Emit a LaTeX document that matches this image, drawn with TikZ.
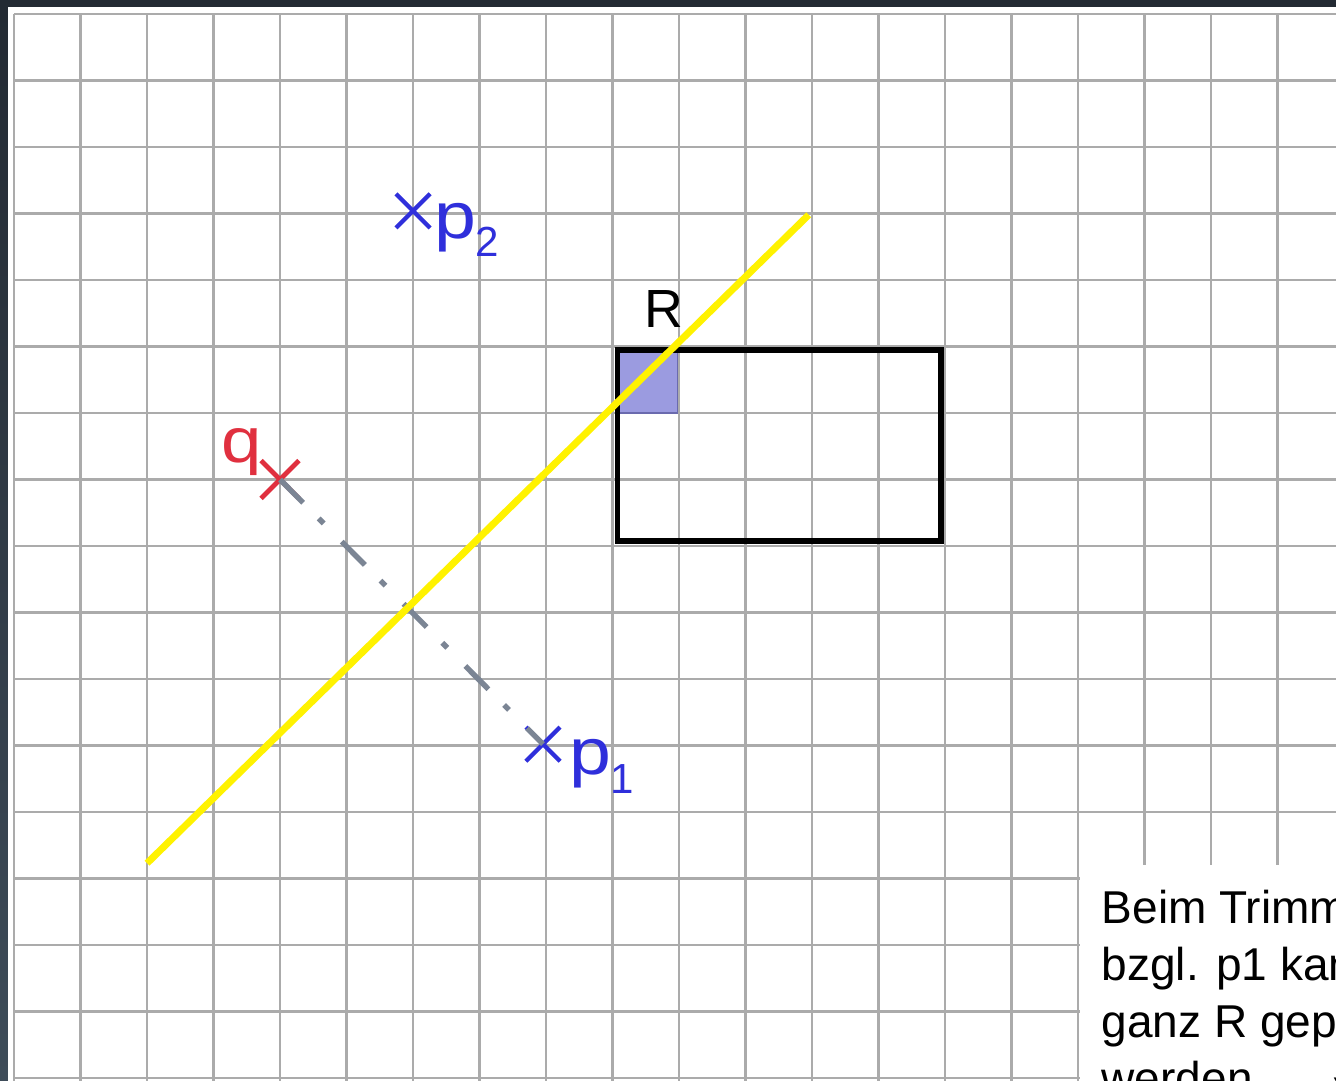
\documentclass[tikz,border=0pt]{standalone}
\usepackage{fontspec}
\setmainfont{Liberation Sans}
\usepackage{xcolor}
\usetikzlibrary{positioning,shapes.misc}
\definecolor{frameedge}{HTML}{232A33}
\definecolor{frameside}{HTML}{3E4C59}
\definecolor{qred}{HTML}{E0303F}
\definecolor{pblue}{HTML}{2F2FDB}
\definecolor{linegray}{HTML}{7B8594}
\definecolor{cellfill}{HTML}{9B9BE0}
\definecolor{celledge}{HTML}{6A6AAE}
\tikzset{
  gridline/.style={draw=black!33, line width=1.1pt},
  pointmark/.style={cross out, draw, inner sep=0pt, minimum size=0.45cm, line width=1.8pt},
  ptlabel/.style={anchor=base west, inner sep=0pt, text=pblue, font=\fontsize{28}{28}\selectfont},
  region/.style={draw=black, line width=2.5pt},
  bisector/.style={draw=yellow, line width=3pt},
  dashdot/.style={draw=linegray, line width=2.3pt,
    dash pattern=on 14pt off 9.5pt on 3pt off 11pt},
  notetext/.style={anchor=north west, inner sep=0pt, align=left,
    font=\fontsize{19.7}{24.4}\selectfont}
}
\newcommand{\lowidx}[1]{\raisebox{-0.28em}{\fontsize{18}{18}\selectfont #1}}
\newcommand{\wide}[1]{\scalebox{1.15}[1]{#1}}

\begin{document}
\begin{tikzpicture}[x=1cm, y=-1cm]
% page and frame
\useasboundingbox (-0.211,-0.211) rectangle (19.880,16.045);
\clip (-0.211,-0.211) rectangle (19.880,16.045);
\fill[frameedge] (-0.211,-0.211) rectangle (19.880,16.045);
\shade[top color=frameedge, bottom color=frameside] (-0.211,-0.105) rectangle (-0.090,16.045);
\fill[white] (-0.090,-0.105) rectangle (19.880,16.045);

% squared paper
\foreach \i in {0,...,19}
  \draw[gridline] (\i,0) -- (\i,16.1);
\foreach \j in {0,...,16}
  \draw[gridline] (0,\j) -- (19.9,\j);

% note box in the corner
\fill[white] (16.03,12.80) rectangle (19.9,16.1);
\node[notetext] (note) at (16.35,13.17)
  {Beim Trimmen\\bzgl. p1 kann\\ganz R gepruned\\werden.\hspace{0.7em}{\fontsize{25}{24.4}\selectfont →}};

% rectangle R with the kept cell
\filldraw[fill=cellfill, draw=celledge, line width=0.6pt] (9.08,5.07) rectangle (9.98,6.00);
\draw[region] (9.075,5.05) rectangle (13.94,7.92);
\node[anchor=base west, inner sep=0pt, font=\fontsize{23}{23}\selectfont] (rlabel) at (9.47,4.72) {R};

% points
\node[pointmark, draw=qred, minimum size=0.5cm, line width=2pt] (q) at (4,7) {};
\node[pointmark, draw=pblue] (p1) at (7.955,10.98) {};
\node[pointmark, draw=pblue] (p2) at (6.0,2.96) {};
\node[anchor=base west, inner sep=0pt, text=qred, font=\fontsize{27}{27}\selectfont] (qlabel) at (3.12,6.74) {\wide{q}};
\node[ptlabel] (p1label) at (8.34,11.44) {\wide{p}\lowidx{1}};
\node[ptlabel] (p2label) at (6.31,3.37) {\wide{p}\lowidx{2}};

% segment q--p1 and the bisector
\draw[dashdot] (q.center) -- (p1.center);
\coordinate (ya) at (2.0,12.77);
\coordinate (yb) at (11.95,3.02);
\draw[bisector] (ya) -- (yb);
\end{tikzpicture}
\end{document}
